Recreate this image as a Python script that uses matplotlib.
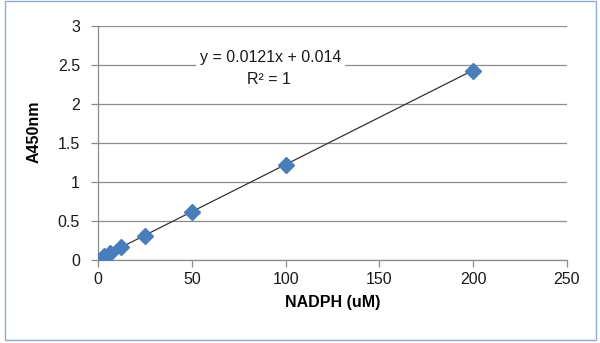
import matplotlib.pyplot as plt
from matplotlib.patches import Rectangle

# standard curve data
nadph = [3.125, 6.25, 12.5, 25, 50, 100, 200]
a450 = [0.05, 0.09, 0.17, 0.31, 0.61, 1.22, 2.43]
slope = 0.0121
intercept = 0.014
eq_text = "y = 0.0121x + 0.014"
r2_text = "R² = 1"

x_ticks = [0, 50, 100, 150, 200, 250]
y_ticks = [0, 0.5, 1, 1.5, 2, 2.5, 3]
y_labels = ["0", "0.5", "1", "1.5", "2", "2.5", "3"]

plt.rcParams['font.family'] = ['Liberation Sans', 'DejaVu Sans']

fig = plt.figure(figsize=(6, 3.43), dpi=100)
ax = fig.add_axes([0.1633, 0.242, 0.7817, 0.682])

# chart border
fig.patches.append(Rectangle((0.009, 0.008), 0.984, 0.988, transform=fig.transFigure,
                             fill=False, edgecolor='#8ea9d6', linewidth=1))

grid_col = '#8c8c8c'
ax.set_xlim(0, 250)
ax.set_ylim(0, 3)
ax.set_xticks(x_ticks)
ax.set_yticks(y_ticks)
ax.set_yticklabels(y_labels)
ax.yaxis.grid(True, color=grid_col, linewidth=0.9)
ax.set_axisbelow(True)
for s in ['top', 'right']:
    ax.spines[s].set_visible(False)
for s in ['left', 'bottom']:
    ax.spines[s].set_color(grid_col)
    ax.spines[s].set_linewidth(0.9)
ax.tick_params(axis='both', colors=grid_col, length=5, width=0.9, labelsize=11.5,
               labelcolor='#1a1a1a', direction='out')
ax.tick_params(axis='y', pad=8)

# trendline
xs = [min(nadph), max(nadph)]
ax.plot(xs, [slope * v + intercept for v in xs], color='#333333', linewidth=0.9, zorder=3)
ax.plot(nadph, a450, linestyle='none', marker='D', markersize=8.5, color='#4a7ebb', zorder=4)

ax.text(92, 2.6, eq_text, ha='center', va='center', fontsize=11.5, color='#1a1a1a',
        bbox=dict(facecolor='white', edgecolor='none', pad=3))
ax.text(91, 2.31, r2_text, ha='center', va='center', fontsize=11.5, color='#1a1a1a')

ax.set_xlabel("NADPH (uM)", fontsize=11.5, fontweight='bold', labelpad=6)
ax.set_ylabel("A450nm", fontsize=11.5, fontweight='bold')
ax.yaxis.set_label_coords(-0.12, 0.55)

fig.savefig("out.png", dpi=100)
